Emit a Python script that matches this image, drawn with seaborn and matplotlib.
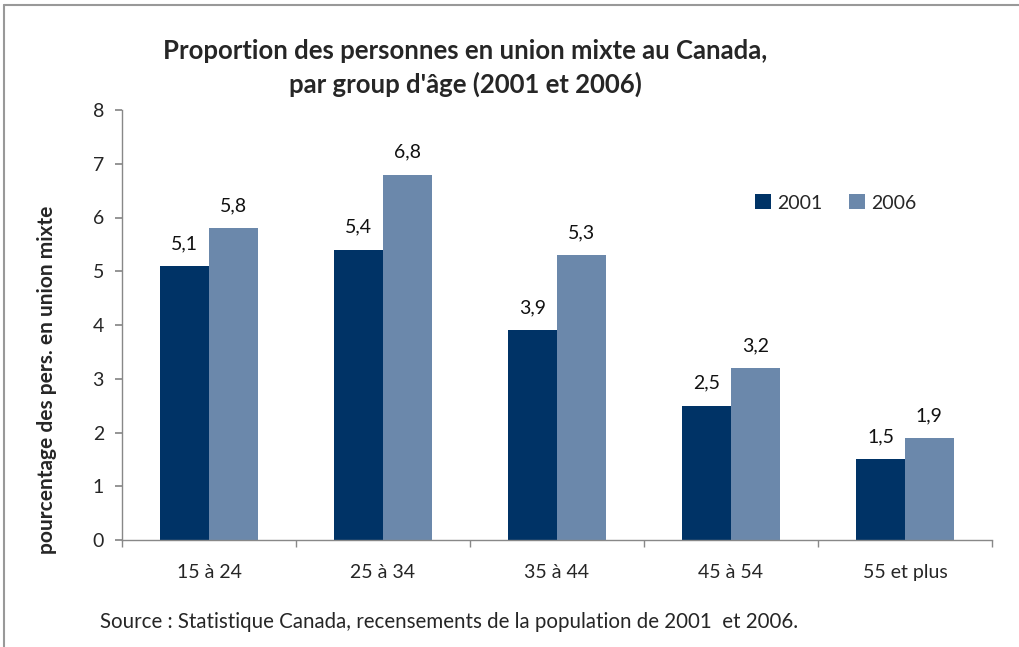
import matplotlib
matplotlib.use("Agg")
import matplotlib.pyplot as plt
import seaborn as sns
import pandas as pd
import numpy as np
from matplotlib.lines import Line2D

categories = ["15 à 24", "25 à 34", "35 à 44", "45 à 54", "55 et plus"]
values_2001 = [5.1, 5.4, 3.9, 2.5, 1.5]
values_2006 = [5.8, 6.8, 5.3, 3.2, 1.9]
years = ["2001", "2006"]
colors = ["#003366", "#6b88ab"]

df = pd.DataFrame({
    "cat": categories * 2,
    "year": [years[0]] * len(categories) + [years[1]] * len(categories),
    "val": values_2001 + values_2006,
})

sns.set_theme(style="white")
plt.rcParams['font.family'] = ['Lato', 'DejaVu Sans']

fig = plt.figure(figsize=(10.2, 6.47), dpi=100)
ax = fig.add_axes([122/1020, 1-540/647, (992-122)/1020, (540-110)/647])

sns.barplot(data=df, x="cat", y="val", hue="year", palette=colors,
            width=0.56, ax=ax, saturation=1, legend=True, linewidth=0, edgecolor="none")

for cont in ax.containers:
    ax.bar_label(cont, labels=[f"{v:.1f}".replace(".", ",") for v in cont.datavalues],
                 padding=10, fontsize=14, color="#111111")

ax.set_ylim(0, 8)
ax.set_xlim(-0.5, len(categories) - 0.5)
ax.set_yticks(range(0, 9))
ax.tick_params(axis="y", labelsize=14, length=5, direction="out", left=True, color="#888888", pad=8)
ax.tick_params(axis="x", which="major", labelsize=14, length=0, pad=17)
ax.set_xticks(np.arange(-0.5, len(categories)), minor=True)
ax.tick_params(axis="x", which="minor", length=5, direction="out", bottom=True, color="#888888")
for s in ["top", "right"]:
    ax.spines[s].set_visible(False)
for s in ["left", "bottom"]:
    ax.spines[s].set_color("#888888")
    ax.spines[s].set_linewidth(1)
ax.set_xlabel("")
ax.set_ylabel("pourcentage des pers. en union mixte", fontsize=15, fontweight="bold")
ax.yaxis.set_label_coords((57 - 122) / 870, (540 - 380) / 430)

leg = ax.legend(loc="center left", bbox_to_anchor=(0.708, 1 - (203-110)/430), ncol=2, frameon=False,
                fontsize=14, handlelength=0.8, handleheight=0.8, columnspacing=1.4,
                handletextpad=0.3)

fig.text(465/1020, 1 - 68/647, "Proportion des personnes en union mixte au Canada,\npar group d'âge (2001 et 2006)",
         ha="center", va="center", fontsize=18.5, fontweight="bold", linespacing=1.4)

fig.text(100/1020, 1 - 622/647, "Source : Statistique Canada, recensements de la population de 2001  et 2006.",
         ha="left", va="center", fontsize=14.8)

# Frame lines (top and left)
fig.add_artist(Line2D([4/1020, 1], [1 - 5/647, 1 - 5/647], color="#999999", lw=1.5, transform=fig.transFigure))
fig.add_artist(Line2D([4/1020, 4/1020], [0, 1 - 5/647], color="#999999", lw=1.5, transform=fig.transFigure))

fig.savefig("out.png", dpi=100)
